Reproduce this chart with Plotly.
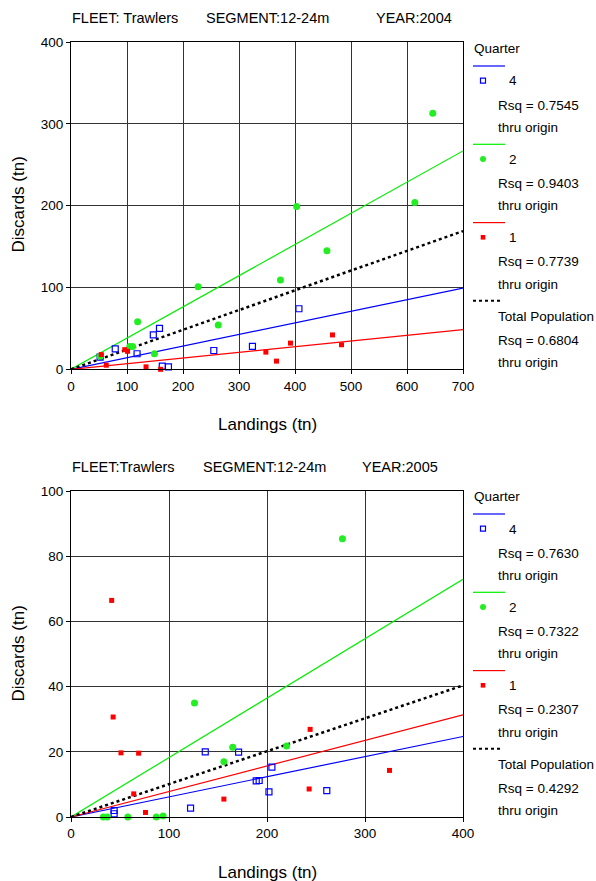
import plotly.graph_objects as go

# ---- data ----
# 2004
land04_q4 = [52, 79, 118, 147, 158, 163, 174, 255, 324, 407]
disc04_q4 = [15, 25, 19, 42, 50, 4, 3, 23, 28, 74]
land04_q2 = [52, 105, 110, 119, 149, 227, 263, 374, 403, 457, 614, 646]
disc04_q2 = [16, 28, 28, 58, 19, 101, 54, 109, 199, 145, 204, 313]
land04_q1 = [54, 63, 96, 101, 134, 160, 348, 367, 392, 467, 483]
disc04_q1 = [18, 5, 24, 22, 3, 0, 21, 10, 32, 42, 30]
slope04 = [0.1418, 0.3813, 0.0691, 0.2413]      # Q4, Q2, Q1, total
rsq04 = ['0.7545', '0.9403', '0.7739', '0.6804']

# 2005
land05_q4 = [44, 44, 122, 137, 171, 189, 192, 202, 205, 261]
disc05_q4 = [2, 1, 2.7, 20, 19.9, 11.1, 11.2, 7.7, 15.3, 8.1]
land05_q2 = [33, 37, 58, 87, 94, 126, 156, 165, 220, 277]
disc05_q2 = [0, 0, 0, 0, 0.3, 35, 17, 21.4, 21.8, 85.4]
land05_q1 = [41.5, 43, 51, 64, 69, 76, 156, 243, 244, 325]
disc05_q1 = [66.5, 30.7, 19.7, 7.1, 19.6, 1.4, 5.5, 8.6, 26.9, 14.3]
slope05 = [0.0618, 0.1825, 0.0784, 0.1010]
rsq05 = ['0.7630', '0.7322', '0.2307', '0.4292']

quarters = ['4', '2', '1']
q_colors = ['#0000FF', '#00EE00', '#FF0000']

W, H = 596, 881
ML, MR, MT, MB = 71, 133, 42, 64
FONT = 'Liberation Sans, Arial, sans-serif'


def px(x):
    return (x - ML) / (W - ML - MR)


def py(y):
    return (H - MB - y) / (H - MT - MB)


fig = go.Figure()

panels = [
    dict(xa='x', ya='y', xmax=700, ymax=400,
         pts=[(land04_q4, disc04_q4), (land04_q2, disc04_q2), (land04_q1, disc04_q1)],
         slopes=slope04, rsq=rsq04, year='2004', fleet='FLEET: Trawlers',
         seg_x=204, year_x=374, title_y=17.5, ylab_y=205, xlab_y=425, leg_y=0),
    dict(xa='x2', ya='y2', xmax=400, ymax=100,
         pts=[(land05_q4, disc05_q4), (land05_q2, disc05_q2), (land05_q1, disc05_q1)],
         slopes=slope05, rsq=rsq05, year='2005', fleet='FLEET:Trawlers',
         seg_x=201, year_x=360, title_y=466.5, ylab_y=654, xlab_y=872, leg_y=448),
]

marker_styles = [
    dict(symbol='square-open', size=6, color='#0000FF', line=dict(width=1.2, color='#0000FF')),
    dict(symbol='circle', size=7, color='#22EE22'),
    dict(symbol='square', size=5, color='#FF0000'),
]

annotations = []
shapes = []

for p in panels:
    # fit lines through origin
    for slope, col in zip(p['slopes'][:3], q_colors):
        fig.add_trace(go.Scatter(x=[0, p['xmax']], y=[0, slope * p['xmax']],
                                 mode='lines', line=dict(color=col, width=1.2),
                                 xaxis=p['xa'], yaxis=p['ya'], showlegend=False,
                                 hoverinfo='skip'))
    fig.add_trace(go.Scatter(x=[0, p['xmax']], y=[0, p['slopes'][3] * p['xmax']],
                             mode='lines', line=dict(color='black', width=2.5, dash='dot'),
                             xaxis=p['xa'], yaxis=p['ya'], showlegend=False,
                             hoverinfo='skip'))
    # data points
    for (xs, ys), ms, q in zip(p['pts'], marker_styles, quarters):
        fig.add_trace(go.Scatter(x=xs, y=ys, mode='markers', marker=ms,
                                 xaxis=p['xa'], yaxis=p['ya'], name=q,
                                 showlegend=False, cliponaxis=False))

    # title pieces
    tfont = dict(family=FONT, size=14.5, color='black')
    for txt, x in [(p['fleet'], 70), ('SEGMENT:12-24m', p['seg_x']), ('YEAR:' + p['year'], p['year_x'])]:
        annotations.append(dict(text=txt, x=px(x), y=py(p['title_y']), xref='paper', yref='paper',
                                xanchor='left', yanchor='middle', showarrow=False, font=tfont))
    # axis titles
    afont = dict(family=FONT, size=17, color='black')
    annotations.append(dict(text='Discards (tn)', x=px(17.5), y=py(p['ylab_y']), xref='paper',
                            yref='paper', textangle=-90, showarrow=False, font=afont,
                            xanchor='center', yanchor='middle'))
    annotations.append(dict(text='Landings (tn)', x=px(267), y=py(p['xlab_y']), xref='paper',
                            yref='paper', showarrow=False, font=afont,
                            xanchor='center', yanchor='middle'))

    # legend block
    lf = dict(family=FONT, size=13.5, color='black')
    o = p['leg_y']

    def lab(txt, x, y):
        annotations.append(dict(text=txt, x=px(x), y=py(y + o), xref='paper', yref='paper',
                                xanchor='left', yanchor='middle', showarrow=False, font=lf))

    lab('Quarter', 471.5, 48.5)
    for i, (q, col) in enumerate(zip(quarters, q_colors)):
        base = 66 + 78.3 * i
        shapes.append(dict(type='line', xref='paper', yref='paper', x0=px(473), x1=px(505),
                           y0=py(base + o), y1=py(base + o), line=dict(color=col, width=1.2)))
        mx, my = 483, base + 14.7 + o
        if i == 0:
            shapes.append(dict(type='rect', xref='paper', yref='paper',
                               x0=px(mx - 2.5), x1=px(mx + 2.5), y0=py(my - 2.5), y1=py(my + 2.5),
                               line=dict(color=col, width=1.2)))
        elif i == 1:
            shapes.append(dict(type='circle', xref='paper', yref='paper',
                               x0=px(mx - 3), x1=px(mx + 3), y0=py(my - 3), y1=py(my + 3),
                               line=dict(color='#22EE22', width=0), fillcolor='#22EE22'))
        else:
            shapes.append(dict(type='rect', xref='paper', yref='paper',
                               x0=px(mx - 2.3), x1=px(mx + 2.3), y0=py(my - 2.3), y1=py(my + 2.3),
                               line=dict(color=col, width=0), fillcolor=col))
        lab(q, 506.5, base + 15)
        lab('Rsq = ' + p['rsq'][i], 495.5, base + 39)
        lab('thru origin', 495.5, base + 61.5)
    shapes.append(dict(type='line', xref='paper', yref='paper', x0=px(473), x1=px(503),
                       y0=py(300.7 + o), y1=py(300.7 + o),
                       line=dict(color='black', width=2, dash='dot')))
    lab('Total Population', 495.5, 316)
    lab('Rsq = ' + p['rsq'][3], 495.5, 340)
    lab('thru origin', 495.5, 362)

axis_common = dict(showgrid=True, gridcolor='#333333', gridwidth=1, zeroline=False,
                   showline=True, linecolor='black', linewidth=1.2, mirror=True,
                   ticks='outside', ticklen=4, tickcolor='black',
                   tickfont=dict(family=FONT, size=13.5, color='black'))

top_y0 = py(369.3)
bot_y1 = py(491.3)

fig.update_layout(
    width=W, height=H,
    margin=dict(l=ML, r=MR, t=MT, b=MB),
    paper_bgcolor='white', plot_bgcolor='white',
    showlegend=False,
    xaxis=dict(axis_common, range=[0, 700], dtick=100, anchor='y', domain=[0, 1]),
    yaxis=dict(axis_common, range=[0, 400], dtick=100, anchor='x', domain=[top_y0, 1]),
    xaxis2=dict(axis_common, range=[0, 400], dtick=100, anchor='y2', domain=[0, 1]),
    yaxis2=dict(axis_common, range=[0, 100], dtick=20, anchor='x2', domain=[0, bot_y1]),
    annotations=annotations,
    shapes=shapes,
)

fig.write_html('out.html', config={'displayModeBar': False},
               post_script="document.body.style.margin='0';")
